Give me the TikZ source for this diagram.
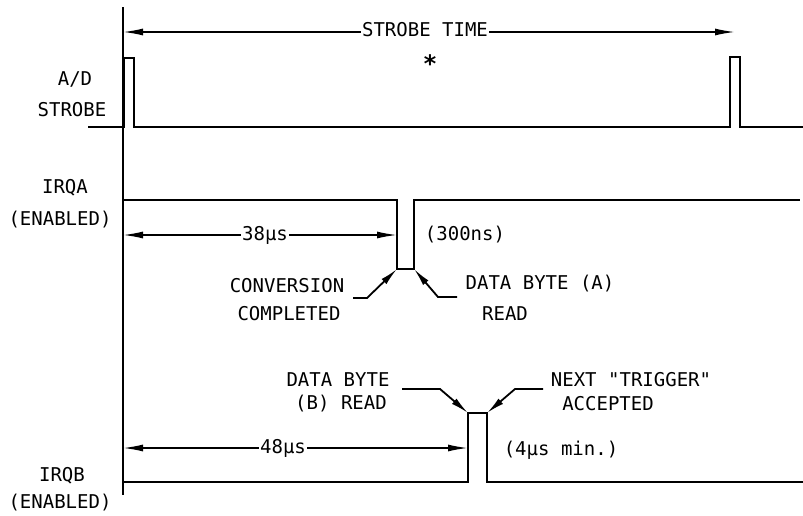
\documentclass[tikz,border=0pt]{standalone}
\usepackage{fontspec}
\newfontfamily\plotfont{DejaVu Sans Mono}
\usetikzlibrary{positioning}
\usetikzlibrary{arrows.meta}

\tikzset{
  wave/.style={line width=2.2pt, line join=miter},
  axisline/.style={line width=1.8pt},
  dimline/.style={line width=1.6pt, -{Latex[length=20pt,width=7pt]}},
  leader/.style={line width=1.8pt, -{Latex[length=18pt,width=7pt]}},
  lbl/.style={font=\plotfont\fontsize{19}{22}\selectfont, inner sep=1pt},
}

\begin{document}
\begin{tikzpicture}[x=1pt,y=-1pt]
 \useasboundingbox (0,0) rectangle (803,515);
 % time axis
 \draw[axisline](123,7)--(123,495);
 % waveforms
 \draw[wave](88,127)--(124,127)--(124,58)--(134,58)--(134,127)--(730,127)--(730,57)--(740,57)--(740,127)--(803,127);
 \draw[wave](123,200)--(397,200)--(397,269)--(414,269)--(414,200)--(800,200);
 \draw[wave](123,482)--(468,482)--(468,413)--(487,413)--(487,482)--(803,482);
 \coordinate (pa1) at (397,269);
 \coordinate (pa2) at (414,269);
 \coordinate (pb1) at (468,413);
 \coordinate (pb2) at (487,413);
 % signal names
 \node[lbl] (ad) at (75,79) {A/D};
 \node[lbl] (strobe) at (72,110) {STROBE};
 \node[lbl] (irqa) at (65,188) {IRQA};
 \node[lbl] (ena) at (60,220) {(ENABLED)};
 \node[lbl] (irqb) at (62,476) {IRQB};
 \node[lbl] (enb) at (60,503) {(ENABLED)};
 % strobe time
 \node[lbl] (stime) at (425,30) {STROBE TIME};
 \node[lbl,font=\plotfont\bfseries\fontsize{24}{24}\selectfont] (star) at (430,64) {*};
 \coordinate (s0) at (123,32);
 \coordinate (s1) at (735,32);
 \draw[dimline](stime.west|-s0)--(s0);
 \draw[dimline](stime.east|-s0)--(s1);
 % 38us
 \node[lbl] (ta) at (265,235) {38µs};
 \coordinate (a0) at (123,235);
 \coordinate (a1) at (397,235);
 \draw[dimline](ta.west|-a0)--(a0);
 \draw[dimline](ta.east|-a0)--(a1);
 \node[lbl] (wa) at (465,235) {(300ns)};
 % 48us
 \node[lbl] (tb) at (283,448) {48µs};
 \coordinate (b0) at (123,448);
 \coordinate (b1) at (468,448);
 \draw[dimline](tb.west|-b0)--(b0);
 \draw[dimline](tb.east|-b0)--(b1);
 \node[lbl] (wb) at (561,450) {(4µs min.)};
 % notes on irqa
 \node[lbl] (conv) at (287,286) {CONVERSION};
 \node[lbl] (comp) at (289,314) {COMPLETED};
 \node[lbl] (dba) at (540,284) {DATA BYTE (A)};
 \node[lbl] (rda) at (505,314) {READ};
 \draw[leader](353,298)--(367,298)--(pa1);
 \draw[leader](457,297)--(438,297)--(pa2);
 % notes on irqb
 \node[lbl] (dbb) at (338,380) {DATA BYTE};
 \node[lbl] (rdb) at (341,404) {(B) READ};
 \node[lbl] (next) at (631,380) {NEXT "TRIGGER"};
 \node[lbl] (acc) at (608,404) {ACCEPTED};
 \draw[leader](402,389)--(440,389)--(pb1);
 \draw[leader](543,389)--(515,389)--(pb2);
\end{tikzpicture}
\end{document}
